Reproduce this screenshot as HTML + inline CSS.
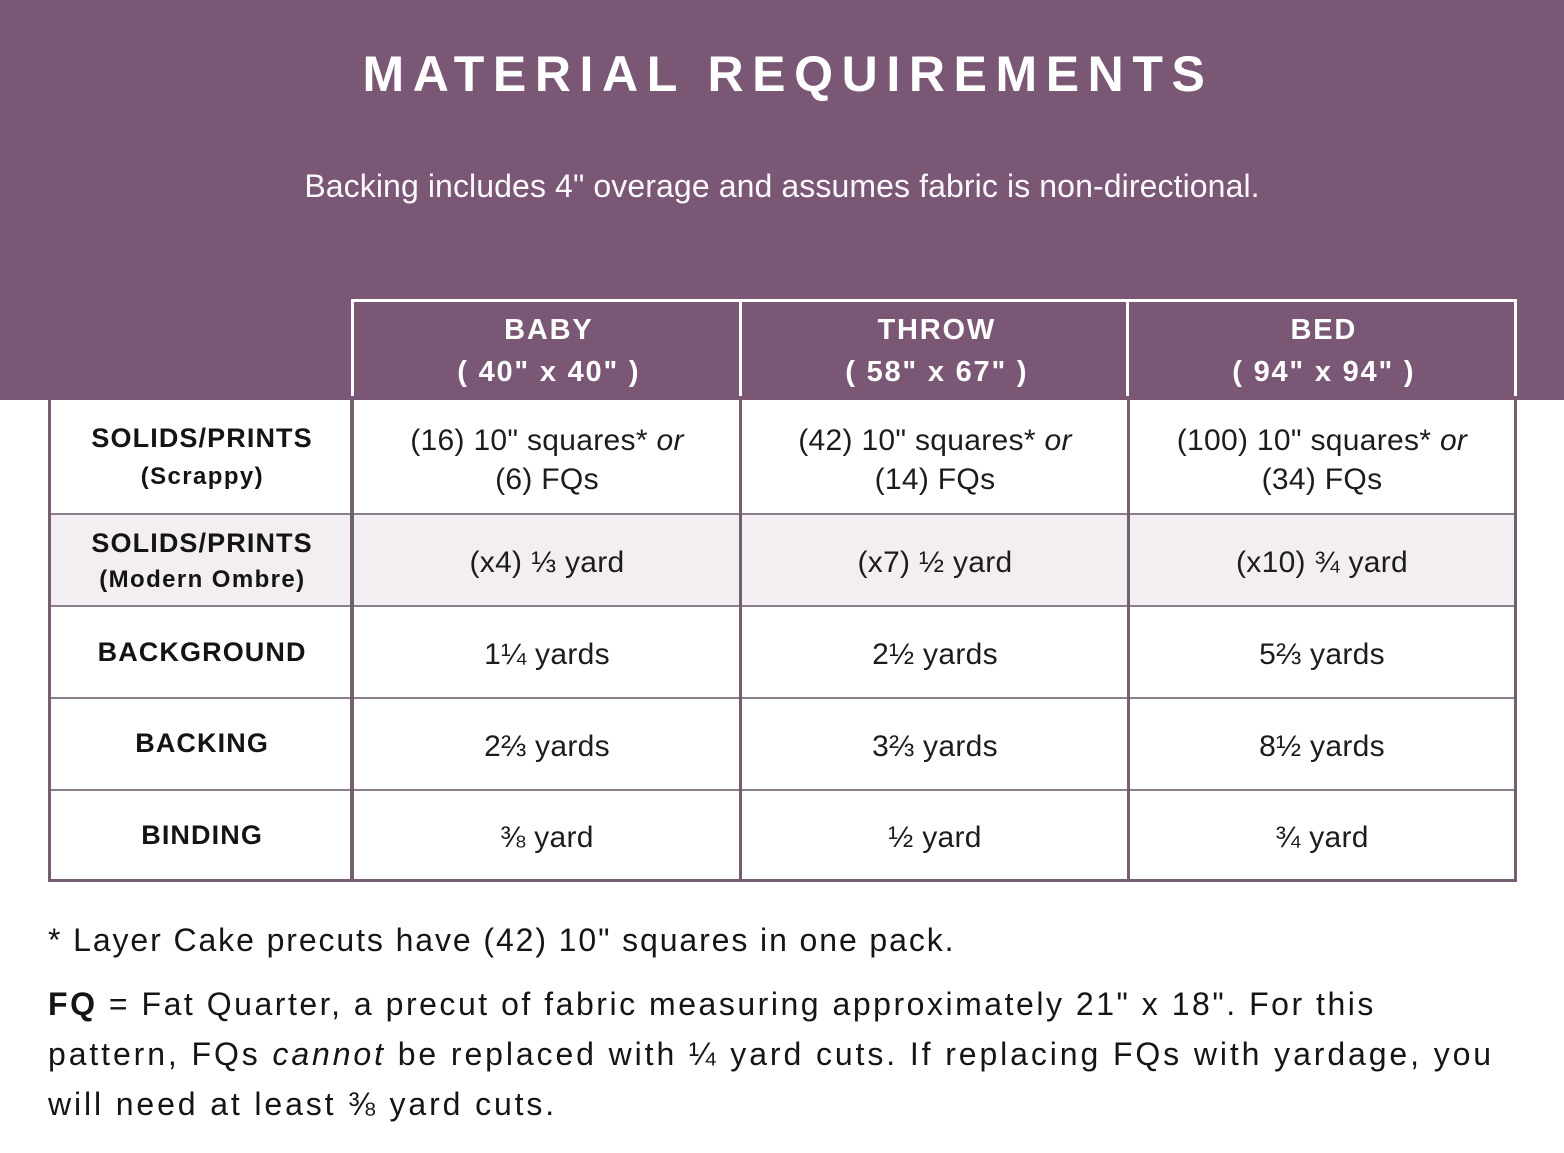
<!DOCTYPE html>
<html>
<head>
<meta charset="utf-8">
<style>
  html, body { margin:0; padding:0; }
  body { width:1564px; height:1153px; position:relative; background:#ffffff; overflow:hidden;
         font-family:"Liberation Sans","DejaVu Sans",sans-serif; }
  .abs { position:absolute; }
  .band { left:0; top:0; width:1564px; height:400px; background:#7a5775; }
  .t { position:absolute; white-space:nowrap; text-align:center; line-height:1; }
  .title { left:6px; width:1564px; top:49px; font-size:50px; font-weight:bold; color:#fff; letter-spacing:8.6px; }
  .sub { left:0; width:1564px; top:170px; font-size:32px; color:#fbf8fb; letter-spacing:0.1px; }
  .hd { font-size:29px; font-weight:bold; color:#fff; letter-spacing:1.8px; width:380px; padding-left:1.8px; }
  .lbl { font-size:27px; font-weight:bold; color:#141414; letter-spacing:1.1px; width:300px; padding-left:1.1px; }
  .lbl2 { font-size:24px; font-weight:bold; color:#141414; letter-spacing:1.4px; width:300px; padding-left:1.4px; }
  .dat { font-size:30px; color:#1c1c1c; letter-spacing:0.3px; width:380px; }
  .wl { background:#ffffff; position:absolute; }
  .dl { background:#745e72; position:absolute; }
  .rl { background:#8a7e88; position:absolute; }
  .foot { position:absolute; left:48px; white-space:nowrap; font-size:32px; line-height:1; color:#151515; }
</style>
</head>
<body>
<div class="abs band"></div>

<div class="t title">MATERIAL REQUIREMENTS</div>
<div class="t sub">Backing includes 4" overage and assumes fabric is non-directional.</div>

<!-- header white grid -->
<div class="wl" style="left:351px; top:299px; width:1166px; height:3px;"></div>
<div class="wl" style="left:351px; top:299px; width:3px; height:97px;"></div>
<div class="wl" style="left:739px; top:299px; width:3px; height:97px;"></div>
<div class="wl" style="left:1126px; top:299px; width:3px; height:97px;"></div>
<div class="wl" style="left:1514px; top:299px; width:3px; height:97px;"></div>

<!-- header labels -->
<div class="t hd" style="left:357px; top:316px;">BABY</div>
<div class="t hd" style="left:357px; top:358px;">( 40" x 40" )</div>
<div class="t hd" style="left:745px; top:316px;">THROW</div>
<div class="t hd" style="left:745px; top:358px;">( 58" x 67" )</div>
<div class="t hd" style="left:1132px; top:316px;">BED</div>
<div class="t hd" style="left:1132px; top:358px;">( 94" x 94" )</div>

<!-- grey row -->
<div class="abs" style="left:50px; top:515px; width:1464px; height:90px; background:#f2eef1;"></div>

<!-- row dividers -->
<div class="rl" style="left:48px; top:513px; width:1469px; height:2px;"></div>
<div class="rl" style="left:48px; top:605px; width:1469px; height:2px;"></div>
<div class="rl" style="left:48px; top:697px; width:1469px; height:2px;"></div>
<div class="rl" style="left:48px; top:789px; width:1469px; height:2px;"></div>

<!-- table body borders -->
<div class="dl" style="left:48px; top:400px; width:3px; height:482px;"></div>
<div class="dl" style="left:350px; top:400px; width:4px; height:482px;"></div>
<div class="dl" style="left:739px; top:400px; width:3px; height:482px;"></div>
<div class="dl" style="left:1127px; top:400px; width:3px; height:482px;"></div>
<div class="dl" style="left:1514px; top:400px; width:3px; height:482px;"></div>
<div class="dl" style="left:48px; top:879px; width:1469px; height:3px;"></div>

<!-- row labels -->
<div class="t lbl" style="left:51px; top:425px;">SOLIDS/PRINTS</div>
<div class="t lbl2" style="left:51px; top:465px;">(Scrappy)</div>
<div class="t lbl" style="left:51px; top:530px;">SOLIDS/PRINTS</div>
<div class="t lbl2" style="left:51px; top:568px;">(Modern Ombre)</div>
<div class="t lbl" style="left:51px; top:639px;">BACKGROUND</div>
<div class="t lbl" style="left:51px; top:730px;">BACKING</div>
<div class="t lbl" style="left:51px; top:822px;">BINDING</div>

<!-- data col 1 -->
<div class="t dat" style="left:357px; top:426px;">(16) 10" squares* <i>or</i></div>
<div class="t dat" style="left:357px; top:465px;">(6) FQs</div>
<div class="t dat" style="left:357px; top:548px;">(x4) ⅓ yard</div>
<div class="t dat" style="left:357px; top:640px;">1¼ yards</div>
<div class="t dat" style="left:357px; top:732px;">2⅔ yards</div>
<div class="t dat" style="left:357px; top:823px;">⅜ yard</div>

<!-- data col 2 -->
<div class="t dat" style="left:745px; top:426px;">(42) 10" squares* <i>or</i></div>
<div class="t dat" style="left:745px; top:465px;">(14) FQs</div>
<div class="t dat" style="left:745px; top:548px;">(x7) ½ yard</div>
<div class="t dat" style="left:745px; top:640px;">2½ yards</div>
<div class="t dat" style="left:745px; top:732px;">3⅔ yards</div>
<div class="t dat" style="left:745px; top:823px;">½ yard</div>

<!-- data col 3 -->
<div class="t dat" style="left:1132px; top:426px;">(100) 10" squares* <i>or</i></div>
<div class="t dat" style="left:1132px; top:465px;">(34) FQs</div>
<div class="t dat" style="left:1132px; top:548px;">(x10) ¾ yard</div>
<div class="t dat" style="left:1132px; top:640px;">5⅔ yards</div>
<div class="t dat" style="left:1132px; top:732px;">8½ yards</div>
<div class="t dat" style="left:1132px; top:823px;">¾ yard</div>

<!-- footer -->
<div class="foot" style="top:924px; letter-spacing:1.9px;">* Layer Cake precuts have (42) 10" squares in one pack.</div>
<div class="foot" style="top:988px; letter-spacing:2.52px;"><b>FQ</b> = Fat Quarter, a precut of fabric measuring approximately 21" x 18". For this</div>
<div class="foot" style="top:1038px; letter-spacing:2.9px;">pattern, FQs <i>cannot</i> be replaced with ¼ yard cuts. If replacing FQs with yardage, you</div>
<div class="foot" style="top:1088px; letter-spacing:2.88px;">will need at least ⅜ yard cuts.</div>
</body>
</html>
